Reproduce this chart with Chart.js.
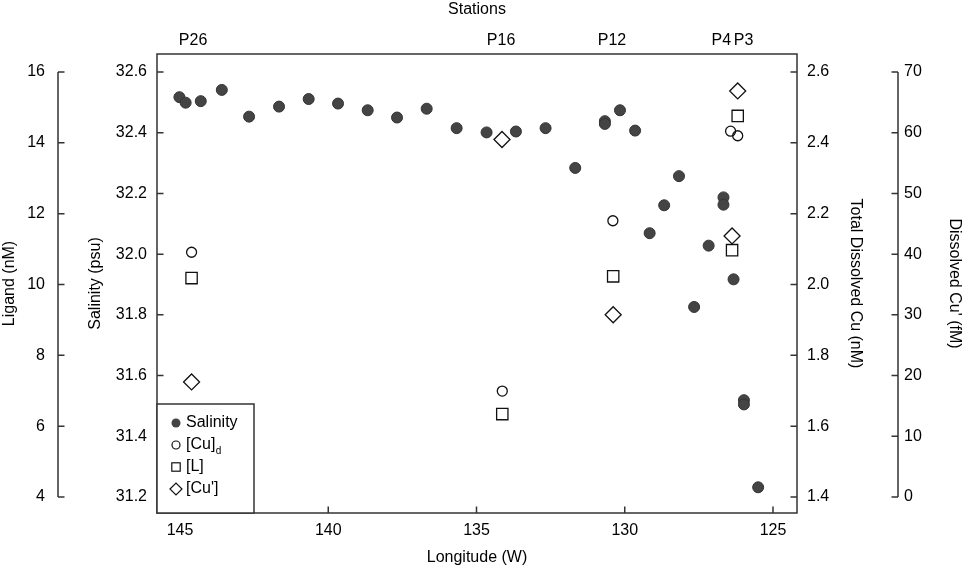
<!DOCTYPE html>
<html><head><meta charset="utf-8">
<script src="https://cdn.jsdelivr.net/npm/chart.js@4.4.1/dist/chart.umd.min.js"></script>
<style>html,body{margin:0;padding:0;background:#fff;}#wrap{width:964px;height:570px;}</style>
</head><body><div id="wrap"><canvas id="c" width="964" height="570"></canvas></div>
<script>
// ---- data ----
const salLon = [145.02, 144.81, 144.30, 143.59, 142.67, 141.66, 140.66, 139.67, 138.67, 137.68, 136.68, 135.67, 134.66, 133.67, 132.67, 131.67, 130.67, 130.67, 130.16, 129.65, 129.16, 128.67, 128.17, 127.66, 127.17, 126.67, 126.67, 126.33, 125.98, 125.98, 125.50];
const salVal = [32.517, 32.499, 32.504, 32.541, 32.453, 32.486, 32.511, 32.496, 32.474, 32.450, 32.479, 32.415, 32.401, 32.404, 32.415, 32.284, 32.438, 32.429, 32.474, 32.407, 32.069, 32.161, 32.257, 31.826, 32.028, 32.187, 32.163, 31.917, 31.519, 31.505, 31.232];
const cuLon  = [144.61, 134.13, 130.40, 126.43, 126.19];
const cuVal  = [2.091, 1.699, 2.180, 2.433, 2.420];
const ligLon = [144.61, 134.13, 130.39, 126.38, 126.19];
const ligVal = [10.18, 6.34, 10.23, 10.97, 14.76];
const cupLon = [144.61, 134.14, 130.39, 126.38, 126.19];
const cupVal = [18.95, 58.88, 30.02, 43.0, 66.88];
const stationNames = ['P26', 'P16', 'P12', 'P4', 'P3'];
const stationLon = [144.56, 134.17, 130.43, 126.74, 125.99];
const xTicks = [145, 140, 135, 130, 125];
const salTicks = [31.2, 31.4, 31.6, 31.8, 32.0, 32.2, 32.4, 32.6];
const ligTicks = [4, 6, 8, 10, 12, 14, 16];
const cuTicks = [1.4, 1.6, 1.8, 2.0, 2.2, 2.4, 2.6];
const cupTicks = [0, 10, 20, 30, 40, 50, 60, 70];

const pts = (xs, ys) => xs.map((x, i) => ({x: x, y: ys[i]}));
const setTicks = arr => (s => { s.ticks = arr.map(v => ({value: v})); });

Chart.defaults.font.family = "'Liberation Sans', Arial, sans-serif";
Chart.defaults.font.size = 16;
Chart.defaults.color = '#000';

const LINE = '#333';
const decor = {
  id: 'decor',
  afterDraw(chart) {
    const ctx = chart.ctx, ca = chart.chartArea, s = chart.scales;
    const TL = 6.5;
    ctx.save();
    ctx.strokeStyle = LINE; ctx.lineWidth = 1.5;
    ctx.strokeRect(ca.left, ca.top, ca.right - ca.left, ca.bottom - ca.top);
    ctx.beginPath();
    s.x.ticks.forEach(t => { const p = s.x.getPixelForValue(t.value); ctx.moveTo(p, ca.bottom); ctx.lineTo(p, ca.bottom - TL); });
    s.ySal.ticks.forEach(t => { const p = s.ySal.getPixelForValue(t.value); ctx.moveTo(ca.left, p); ctx.lineTo(ca.left + TL, p); });
    s.yCu.ticks.forEach(t => { const p = s.yCu.getPixelForValue(t.value); ctx.moveTo(ca.right, p); ctx.lineTo(ca.right - TL, p); });
    // ligand detached axis
    const lx = s.yLig.right;
    ctx.moveTo(lx, s.yLig.getPixelForValue(ligTicks[0])); ctx.lineTo(lx, s.yLig.getPixelForValue(ligTicks[ligTicks.length - 1]));
    s.yLig.ticks.forEach(t => { const p = s.yLig.getPixelForValue(t.value); ctx.moveTo(lx, p); ctx.lineTo(lx + TL, p); });
    // Cu' detached axis
    const cx = s.yCup.left;
    ctx.moveTo(cx, s.yCup.getPixelForValue(cupTicks[0])); ctx.lineTo(cx, s.yCup.getPixelForValue(cupTicks[cupTicks.length - 1]));
    s.yCup.ticks.forEach(t => { const p = s.yCup.getPixelForValue(t.value); ctx.moveTo(cx, p); ctx.lineTo(cx - TL, p); });
    ctx.stroke();

    // legend
    const lw = 97, lh = 109;
    const lx0 = ca.left, ly0 = ca.bottom - lh;
    ctx.fillStyle = '#fff'; ctx.fillRect(lx0, ly0, lw, lh);
    ctx.strokeRect(lx0, ly0, lw, lh);
    const mx = lx0 + 19, tx = lx0 + 29;
    const rows = [ly0 + 19, ly0 + 41, ly0 + 63, ly0 + 85];
    ctx.lineWidth = 1.2; ctx.strokeStyle = '#111';
    ctx.fillStyle = '#444';
    ctx.beginPath(); ctx.arc(mx, rows[0], 4.5, 0, Math.PI * 2); ctx.fill();
    ctx.beginPath(); ctx.arc(mx, rows[1], 4, 0, Math.PI * 2); ctx.stroke();
    ctx.strokeRect(mx - 4.2, rows[2] - 4.2, 8.4, 8.4);
    ctx.beginPath(); ctx.moveTo(mx - 6, rows[3]); ctx.lineTo(mx, rows[3] - 6); ctx.lineTo(mx + 6, rows[3]); ctx.lineTo(mx, rows[3] + 6); ctx.closePath(); ctx.stroke();
    ctx.fillStyle = '#000';
    ctx.textBaseline = 'middle'; ctx.textAlign = 'left';
    ctx.font = "16px 'Liberation Sans', Arial, sans-serif";
    ctx.fillText('Salinity', tx, rows[0]);
    ctx.fillText('[Cu]', tx, rows[1]);
    const wcu = ctx.measureText('[Cu]').width;
    ctx.fillText('[L]', tx, rows[2]);
    ctx.fillText("[Cu']", tx, rows[3]);
    ctx.font = "10px 'Liberation Sans', Arial, sans-serif";
    ctx.fillText('d', tx + wcu + 0.5, rows[1] + 6);
    ctx.restore();
  }
};

const noGrid = {display: false, drawTicks: false};
const noBorder = {display: false};

new Chart(document.getElementById('c'), {
  type: 'scatter',
  data: {
    datasets: [
      {label: 'Salinity', data: pts(salLon, salVal), yAxisID: 'ySal', pointStyle: 'circle', pointRadius: 5.5, backgroundColor: '#444', borderColor: '#333', borderWidth: 1},
      {label: '[Cu]d', data: pts(cuLon, cuVal), yAxisID: 'yCu', pointStyle: 'circle', pointRadius: 5, backgroundColor: 'rgba(0,0,0,0)', borderColor: '#111', borderWidth: 1.3},
      {label: '[L]', data: pts(ligLon, ligVal), yAxisID: 'yLig', pointStyle: 'rect', pointRadius: 8, backgroundColor: 'rgba(0,0,0,0)', borderColor: '#111', borderWidth: 1.3},
      {label: "[Cu']", data: pts(cupLon, cupVal), yAxisID: 'yCup', pointStyle: 'rectRot', pointRadius: 8, backgroundColor: 'rgba(0,0,0,0)', borderColor: '#111', borderWidth: 1.3}
    ]
  },
  options: {
    responsive: false, animation: false, events: [],
    layout: {padding: 0},
    plugins: {legend: {display: false}, tooltip: {enabled: false}},
    scales: {
      x: {type: 'linear', position: 'bottom', reverse: true, min: 124.19, max: 145.776,
          afterBuildTicks: setTicks(xTicks), grid: noGrid, border: noBorder,
          ticks: {padding: 8, autoSkip: false, maxRotation: 0, callback: v => String(v)},
          title: {display: true, text: 'Longitude (W)', padding: {top: 0, bottom: 2.4}},
          afterFit: s => { s.height = 57; }},
      xTop: {type: 'linear', position: 'top', reverse: true, min: 124.19, max: 145.776,
          afterBuildTicks: setTicks(stationLon), grid: noGrid, border: noBorder,
          ticks: {padding: 4.2, autoSkip: false, maxRotation: 0, callback: (v, i) => stationNames[i]},
          title: {display: true, text: 'Stations', padding: {top: 0, bottom: 0}},
          afterFit: s => { s.height = 54; }},
      yLig: {type: 'linear', position: 'left', weight: 2, min: 3.548, max: 16.508,
          afterBuildTicks: setTicks(ligTicks), grid: noGrid, border: noBorder,
          ticks: {padding: 13, callback: v => String(v)},
          title: {display: true, text: 'Ligand (nM)', padding: {top: 0, bottom: 0}},
          afterFit: s => { s.width = 58; }},
      ySal: {type: 'linear', position: 'left', weight: 1, min: 31.1473, max: 32.6593,
          afterBuildTicks: setTicks(salTicks), grid: noGrid, border: noBorder,
          ticks: {padding: 10, callback: v => v.toFixed(1)},
          title: {display: true, text: 'Salinity (psu)', padding: {top: 28, bottom: 0}},
          afterFit: s => { s.width = 99; }},
      yCu: {type: 'linear', position: 'right', weight: 1, min: 1.3548, max: 2.6508,
          afterBuildTicks: setTicks(cuTicks), grid: noGrid, border: noBorder,
          ticks: {padding: 10, callback: v => v.toFixed(1)},
          title: {display: true, text: 'Total Dissolved Cu (nM)', padding: {top: 33.4, bottom: 0}},
          afterFit: s => { s.width = 101; }},
      yCup: {type: 'linear', position: 'right', weight: 2, min: -2.635, max: 72.965,
          afterBuildTicks: setTicks(cupTicks), grid: noGrid, border: noBorder,
          ticks: {padding: 6, callback: v => String(v)},
          title: {display: true, text: "Dissolved Cu' (fM)", padding: {top: 0, bottom: 0}},
          afterFit: s => { s.width = 66; }}
    }
  },
  plugins: [decor]
});
</script>
</body></html>
